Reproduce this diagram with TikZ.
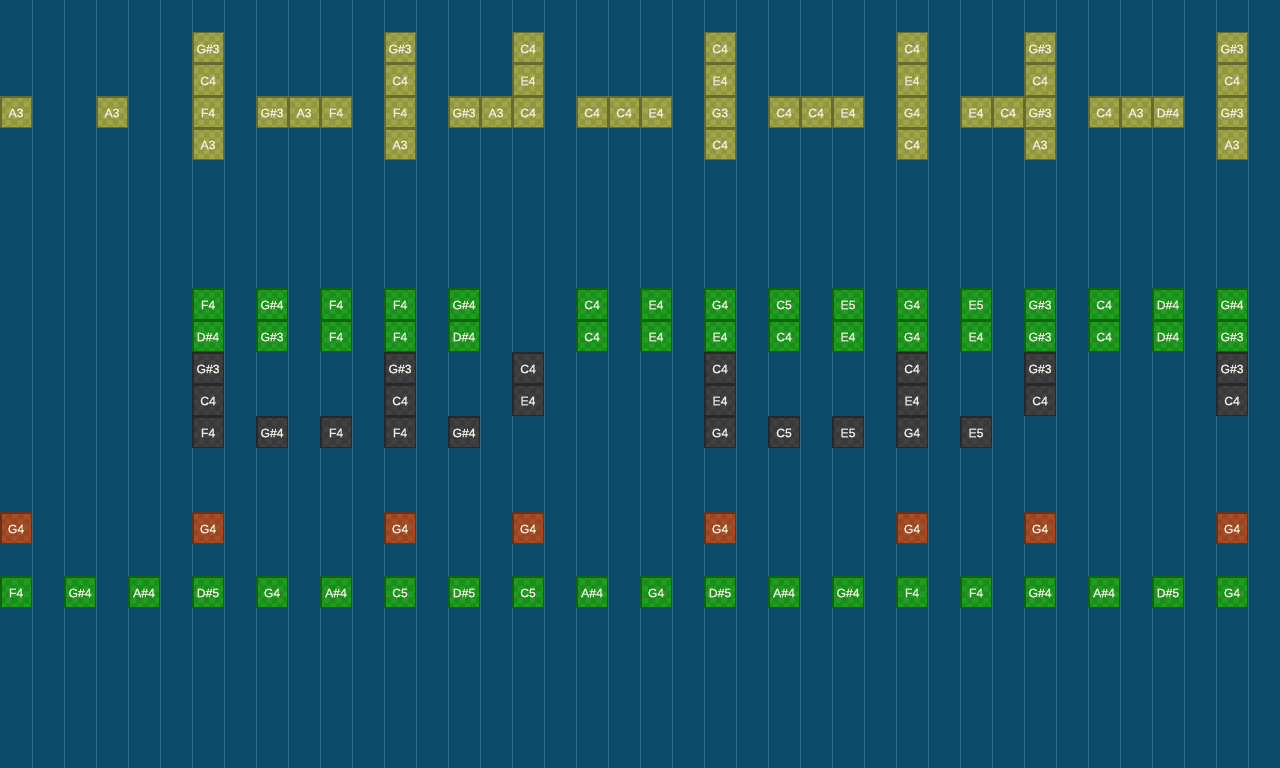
\documentclass[tikz,border=0pt]{standalone}
\usepackage{fontspec}
\setmainfont{Liberation Sans}
\newfontfamily\notefont[FakeBold=1.3]{Liberation Sans}
\usepackage{tikz}
\usetikzlibrary{patterns}

\definecolor{bg}{HTML}{0C4A6B}
\definecolor{gridc}{HTML}{346A8A}
\definecolor{yelfill}{HTML}{92973F}
\definecolor{yelchk}{HTML}{A0A54C}
\definecolor{yeledge}{HTML}{686B30}
\definecolor{grnfill}{HTML}{198E19}
\definecolor{grnchk}{HTML}{229C22}
\definecolor{grnedge}{HTML}{0E650E}
\definecolor{gryfill}{HTML}{393939}
\definecolor{grychk}{HTML}{414141}
\definecolor{gryedge}{HTML}{282828}
\definecolor{redfill}{HTML}{9A451F}
\definecolor{redchk}{HTML}{A64E25}
\definecolor{rededge}{HTML}{6E3014}
\definecolor{notetext}{HTML}{EEEEE2}

\begin{document}
\begin{tikzpicture}[
  x=1pt, y=-1pt,
  gridline/.style={gridc, line width=1pt},
  note/.style={rectangle, minimum size=30.5pt, inner sep=0pt, line width=1.5pt,
    text=notetext, text height=10.4pt, text depth=0pt,
    font=\notefont\fontsize{12.2}{13}\selectfont},
  yel/.style={note, fill=yelfill, draw=yeledge,
    path picture={\fill[pattern=checkerboard, pattern color=yelchk]
      (path picture bounding box.south west) rectangle (path picture bounding box.north east);}},
  grn/.style={note, fill=grnfill, draw=grnedge,
    path picture={\fill[pattern=checkerboard, pattern color=grnchk]
      (path picture bounding box.south west) rectangle (path picture bounding box.north east);}},
  gry/.style={note, fill=gryfill, draw=gryedge,
    path picture={\fill[pattern=checkerboard, pattern color=grychk]
      (path picture bounding box.south west) rectangle (path picture bounding box.north east);}},
  red/.style={note, fill=redfill, draw=rededge,
    path picture={\fill[pattern=checkerboard, pattern color=redchk]
      (path picture bounding box.south west) rectangle (path picture bounding box.north east);}}
]
% background and beat lines
\fill[bg] (0,0) rectangle (1280,768);
\useasboundingbox (0,0) rectangle (1280,768);
\foreach \k in {1,...,39}
  \draw[gridline] ({32*\k},0) -- ({32*\k},768);

% chord track (yellow)
\foreach \c/\t in {6/G\#3,12/G\#3,16/C4,22/C4,28/C4,32/G\#3,38/G\#3}
  \node[yel] (ya-\c) at ({32*\c+16},48) {\t};
\foreach \c/\t in {6/C4,12/C4,16/E4,22/E4,28/E4,32/C4,38/C4}
  \node[yel] (yb-\c) at ({32*\c+16},80) {\t};
\foreach \c/\t in {0/A3,3/A3,6/F4,8/G\#3,9/A3,10/F4,12/F4,14/G\#3,15/A3,16/C4,
    18/C4,19/C4,20/E4,22/G3,24/C4,25/C4,26/E4,28/G4,30/E4,31/C4,32/G\#3,
    34/C4,35/A3,36/D\#4,38/G\#3}
  \node[yel] (yc-\c) at ({32*\c+16},112) {\t};
\foreach \c/\t in {6/A3,12/A3,22/C4,28/C4,32/A3,38/A3}
  \node[yel] (yd-\c) at ({32*\c+16},144) {\t};

% lead track (green) over pad (gray)
\foreach \c/\t in {6/F4,8/G\#4,10/F4,12/F4,14/G\#4,18/C4,20/E4,22/G4,24/C5,
    26/E5,28/G4,30/E5,32/G\#3,34/C4,36/D\#4,38/G\#4}
  \node[grn] (ga-\c) at ({32*\c+16},304) {\t};
\foreach \c/\t in {6/D\#4,8/G\#3,10/F4,12/F4,14/D\#4,18/C4,20/E4,22/E4,24/C4,
    26/E4,28/G4,30/E4,32/G\#3,34/C4,36/D\#4,38/G\#3}
  \node[grn] (gb-\c) at ({32*\c+16},336) {\t};
\foreach \c/\t in {6/G\#3,12/G\#3,16/C4,22/C4,28/C4,32/G\#3,38/G\#3}
  \node[gry] (ka-\c) at ({32*\c+16},368) {\t};
\foreach \c/\t in {6/C4,12/C4,16/E4,22/E4,28/E4,32/C4,38/C4}
  \node[gry] (kb-\c) at ({32*\c+16},400) {\t};
\foreach \c/\t in {6/F4,8/G\#4,10/F4,12/F4,14/G\#4,22/G4,24/C5,26/E5,28/G4,30/E5}
  \node[gry] (kc-\c) at ({32*\c+16},432) {\t};

% drum hits (red)
\foreach \c in {0,6,12,16,22,28,32,38}
  \node[red] (r-\c) at ({32*\c+16},528) {G4};

% bass line (green)
\foreach \c/\t in {0/F4,2/G\#4,4/A\#4,6/D\#5,8/G4,10/A\#4,12/C5,14/D\#5,16/C5,
    18/A\#4,20/G4,22/D\#5,24/A\#4,26/G\#4,28/F4,30/F4,32/G\#4,34/A\#4,36/D\#5,38/G4}
  \node[grn] (b-\c) at ({32*\c+16},592) {\t};
\end{tikzpicture}
\end{document}
